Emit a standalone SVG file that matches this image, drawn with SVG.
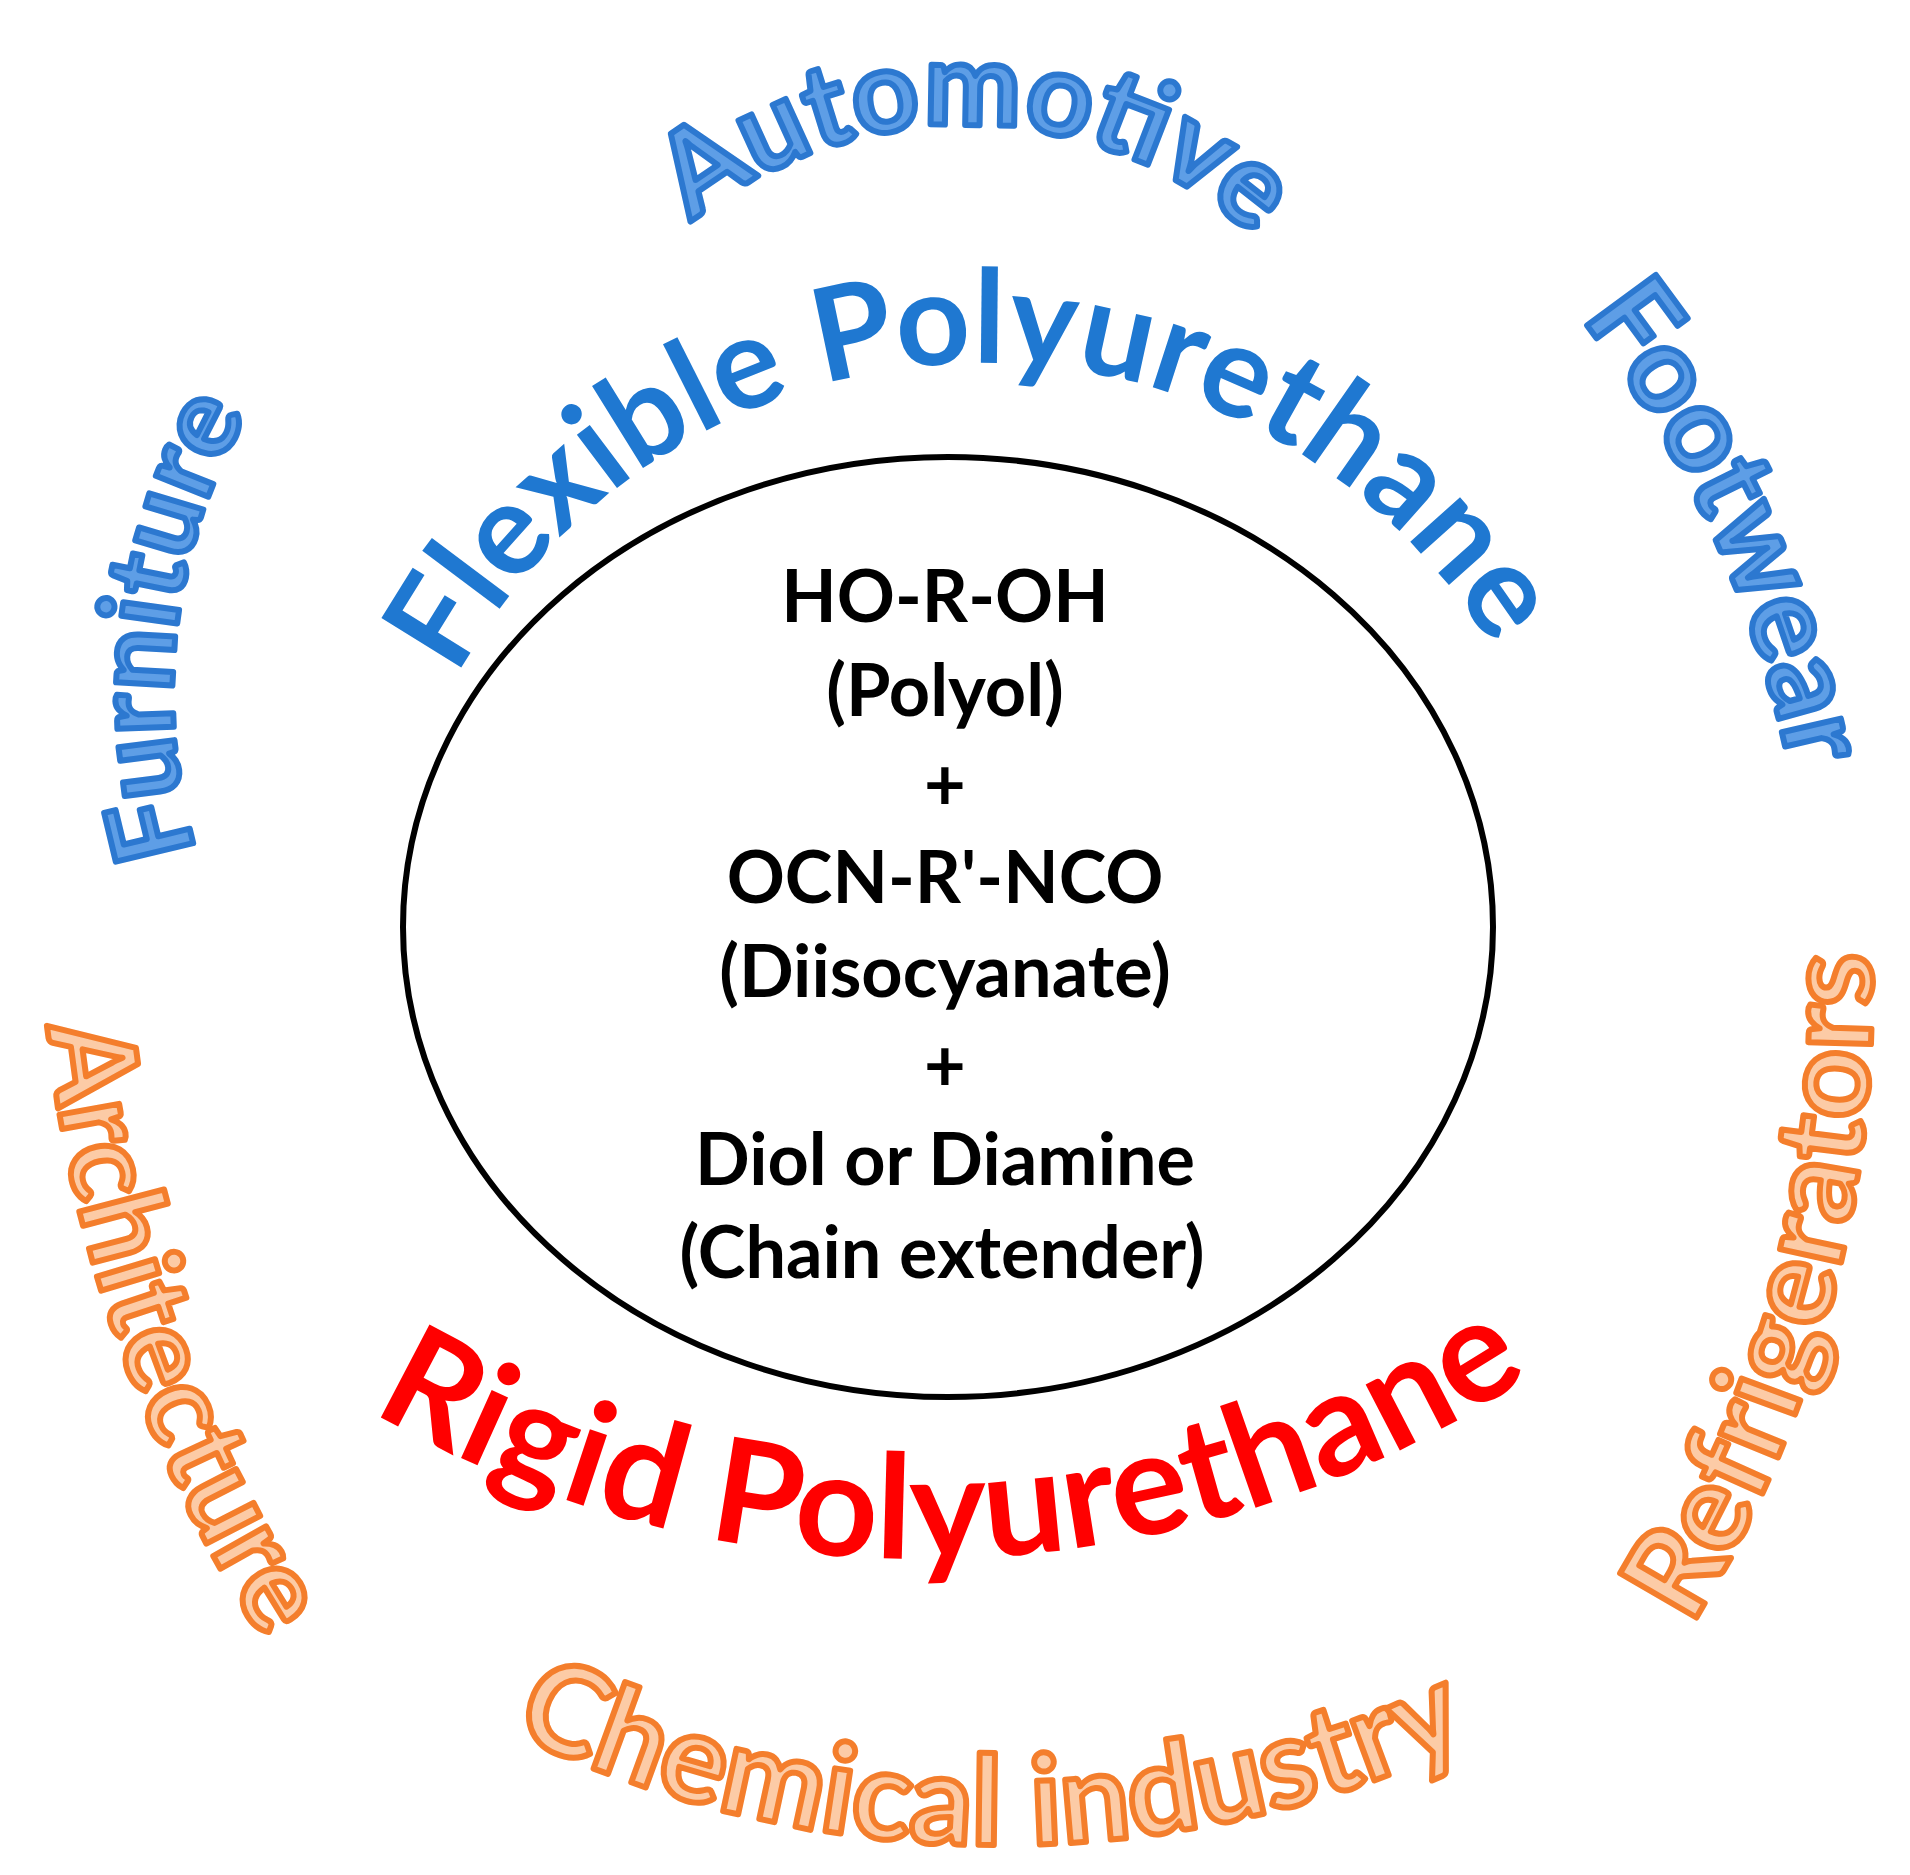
<svg xmlns="http://www.w3.org/2000/svg" xmlns:xlink="http://www.w3.org/1999/xlink" width="1910" height="1875" viewBox="0 0 1910 1875">
<style>
text{font-family:Lato,"Open Sans","Liberation Sans",sans-serif;font-weight:700}
.inner{font-size:72px;fill:#000;text-anchor:middle}
.big{text-anchor:middle}
.flex{font-size:130px;fill:#1F78D1}
.rigid{font-size:145px;fill:#FF0000}
.blue{fill:#5E9EE6;stroke:#2C78D0;stroke-width:6;stroke-linejoin:round}
.orange{fill:#FCCBA6;stroke:#F47E2C;stroke-width:6;stroke-linejoin:round}
</style>
<defs>
<path id="pFlex" d="M391.4,873.6 A598,598 0 0 1 1568.8,840.7"/>
<path id="pAuto" d="M598.2,330.6 A430,430 0 0 1 1342.7,349.5"/>
<path id="pFoot" d="M1346.7,94.5 A1099,1099 0 0 1 1808.6,1091.7"/>
<path id="pFurn" d="M293.5,1040.1 A560,560 0 0 1 385.9,253.5"/>
<path id="pArch" d="M46.7,744.4 A1400,1400 0 0 0 439.7,1860.6"/>
<path id="pRefr" d="M1520.5,1840.5 A1200,1200 0 0 0 1831.1,681.4"/>
<path id="pChem" d="M204.7,1511.5 A1115,1115 0 0 0 1781.5,1525.3"/>
<path id="pRigid" d="M94.3,1183.9 A1101,1101 0 0 0 1780.7,1147.1"/>
</defs>
<rect width="1910" height="1875" fill="#fff"/>
<g id="connectors"/>
<g id="reaction">
<ellipse cx="948" cy="927" rx="545" ry="470" fill="none" stroke="#000" stroke-width="6"/>
<text class="inner" x="945" y="622">HO-R-OH</text>
<text class="inner" x="945" y="716">(Polyol)</text>
<text class="inner" x="945" y="810">+</text>
<text class="inner" x="945" y="903">OCN-R'-NCO</text>
<text class="inner" x="945" y="997">(Diisocyanate)</text>
<text class="inner" x="945" y="1091">+</text>
<text class="inner" x="945" y="1185">Diol or Diamine</text>
<text class="inner" x="942" y="1278">(Chain extender)</text>
</g>
<g id="flexible">
<text class="big flex"><textPath xlink:href="#pFlex" href="#pFlex" startOffset="50%">Flexible Polyurethane</textPath></text>
</g>
<g id="rigid">
<text class="big rigid"><textPath xlink:href="#pRigid" href="#pRigid" startOffset="50.5%">Rigid Polyurethane</textPath></text>
</g>
<g id="automotive">
<text class="big blue" font-size="116"><textPath xlink:href="#pAuto" href="#pAuto" startOffset="50%">Automotive</textPath></text>
</g>
<g id="footwear">
<text class="big blue" font-size="118"><textPath xlink:href="#pFoot" href="#pFoot" startOffset="50%">Footwear</textPath></text>
</g>
<g id="furniture">
<text class="big blue" font-size="110"><textPath xlink:href="#pFurn" href="#pFurn" startOffset="50%">Furniture</textPath></text>
</g>
<g id="architecture">
<text class="big orange" font-size="118"><textPath xlink:href="#pArch" href="#pArch" startOffset="50%">Architecture</textPath></text>
</g>
<g id="refrigerators">
<text class="big orange" font-size="122"><textPath xlink:href="#pRefr" href="#pRefr" startOffset="50%">Refrigerators</textPath></text>
</g>
<g id="chemical">
<text class="big orange" font-size="124"><textPath xlink:href="#pChem" href="#pChem" startOffset="50%">Chemical industry</textPath></text>
</g>
</svg>
